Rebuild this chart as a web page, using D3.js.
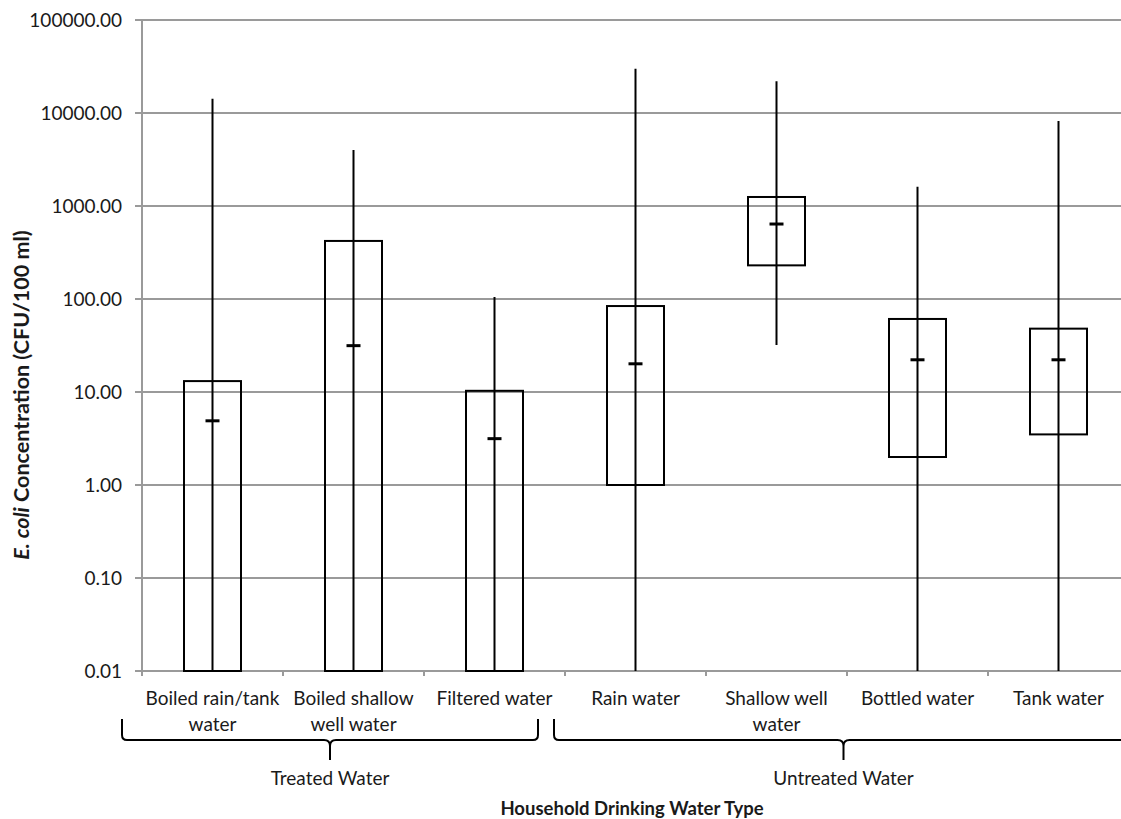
<!DOCTYPE html>
<html>
<head>
<meta charset="utf-8">
<script src="https://cdn.jsdelivr.net/npm/d3@7"></script>
<style>
  body { margin: 0; background: #fff; }
  text { font-family: Lato, "Open Sans", sans-serif; fill: #1a1a1a; }
</style>
</head>
<body>
<svg id="chart" width="1121" height="819"></svg>
<script>
// values (CFU/100 ml, log scale)
var categories = ["Boiled rain/tank water", "Boiled shallow well water", "Filtered water",
                  "Rain water", "Shallow well water", "Bottled water", "Tank water"];
var tickLabels = ["Boiled rain/tank\nwater", "Boiled shallow\nwell water", "Filtered water",
                  "Rain water", "Shallow well\nwater", "Bottled water", "Tank water"];
var whiskerLow  = [0.01, 0.01, 0.01, 0.01, 32, 0.01, 0.01];
var boxLow      = [0.01, 0.01, 0.01, 1.0, 230, 2.0, 3.5];
var medians     = [4.9, 31.5, 3.15, 20.1, 640, 22.2, 22.2];
var boxHigh     = [13.1, 421, 10.3, 84, 1250, 61, 48];
var whiskerHigh = [14200, 4000, 105, 30000, 21900, 1615, 8200];
var yTicks = [0.01, 0.1, 1, 10, 100, 1000, 10000, 100000];
var groups = [
  {name: "Treated Water", from: 0, to: 2},
  {name: "Untreated Water", from: 3, to: 6}
];

var svg = d3.select("#chart");
// note: "top" is taken by window.top, so use plot* names
var plotL = 142, plotT = 20, plotB = 671, plotR = 142 + 141 * 7;

var x = d3.scaleBand().domain(categories).range([plotL, plotR]);
var y = d3.scaleLog().domain([0.01, 100000]).range([plotB, plotT]);
var boxW = 57;

// gridlines
svg.append("g").selectAll("line").data(yTicks).join("line")
  .attr("x1", plotL - 7).attr("x2", 1121)
  .attr("y1", d => y(d)).attr("y2", d => y(d))
  .attr("stroke", "#9a9a9a").attr("stroke-width", 2);

// y axis line
svg.append("line").attr("x1", plotL).attr("x2", plotL).attr("y1", plotT).attr("y2", plotB + 5)
  .attr("stroke", "#9a9a9a").attr("stroke-width", 2);

// y tick labels
svg.append("g").selectAll("text").data(yTicks).join("text")
  .attr("x", 122).attr("y", d => y(d)).attr("dy", "0.35em")
  .attr("text-anchor", "end").attr("font-size", 19)
  .text(d => d.toFixed(2));

// x axis ticks at band edges
var edges = categories.map(c => x(c)).concat([plotR]);
svg.append("g").selectAll("line").data(edges).join("line")
  .attr("x1", d => d).attr("x2", d => d).attr("y1", plotB).attr("y2", plotB + 5)
  .attr("stroke", "#9a9a9a").attr("stroke-width", 2);

// whiskers
var cx = i => x(categories[i]) + x.bandwidth() / 2;
svg.append("g").selectAll("line").data(categories).join("line")
  .attr("x1", (d, i) => cx(i)).attr("x2", (d, i) => cx(i))
  .attr("y1", (d, i) => y(whiskerLow[i])).attr("y2", (d, i) => y(whiskerHigh[i]))
  .attr("stroke", "#000").attr("stroke-width", 2);

// boxes
svg.append("g").selectAll("rect").data(categories).join("rect")
  .attr("x", (d, i) => cx(i) - boxW / 2).attr("width", boxW)
  .attr("y", (d, i) => y(boxHigh[i]))
  .attr("height", (d, i) => y(boxLow[i]) - y(boxHigh[i]))
  .attr("fill", "none").attr("stroke", "#000").attr("stroke-width", 2);

// medians
svg.append("g").selectAll("line").data(categories).join("line")
  .attr("x1", (d, i) => cx(i) - 7).attr("x2", (d, i) => cx(i) + 7)
  .attr("y1", (d, i) => y(medians[i])).attr("y2", (d, i) => y(medians[i]))
  .attr("stroke", "#000").attr("stroke-width", 3);

// category labels
var lab = svg.append("g").selectAll("text").data(tickLabels).join("text")
  .attr("text-anchor", "middle").attr("font-size", 19)
  .attr("x", (d, i) => cx(i)).attr("y", 705);
lab.selectAll("tspan").data(d => d.split("\n")).join("tspan")
  .attr("x", function() { return this.parentNode.getAttribute("x"); })
  .attr("dy", (d, i) => i ? 26 : 0)
  .text(d => d);

// group brackets
var by = 740;
groups.forEach(function(g, gi) {
  var x0 = x(categories[g.from]) - (gi === 0 ? 20 : 11);
  var x1 = gi === 0 ? x(categories[g.to]) + x.bandwidth() - 27 : plotR + 4;
  var m = (x0 + x1) / 2;
  var p = d3.path();
  p.moveTo(x0, by - 21);
  p.lineTo(x0, by - 5);
  p.quadraticCurveTo(x0, by, x0 + 5, by);
  p.lineTo(m - 6, by);
  p.quadraticCurveTo(m, by, m, by + 6);
  p.lineTo(m, by + 20);
  p.moveTo(m, by + 6);
  p.quadraticCurveTo(m, by, m + 6, by);
  p.lineTo(x1 - 5, by);
  p.quadraticCurveTo(x1, by, x1, by - 5);
  p.lineTo(x1, by - 21);
  svg.append("path").attr("d", p.toString())
    .attr("fill", "none").attr("stroke", "#000").attr("stroke-width", 2);
  svg.append("text").attr("x", m).attr("y", 785)
    .attr("text-anchor", "middle").attr("font-size", 19).text(g.name);
});

// axis titles
svg.append("text").attr("x", 632).attr("y", 815)
  .attr("text-anchor", "middle").attr("font-size", 18.5).attr("font-weight", "bold")
  .text("Household Drinking Water Type");

var yt = svg.append("text").attr("transform", "translate(29,395) rotate(-90)")
  .attr("text-anchor", "middle").attr("font-size", 21.5).attr("font-weight", "bold");
yt.append("tspan").attr("font-style", "italic").text("E. coli");
yt.append("tspan").text(" Concentration (CFU/100 ml)");
</script>
</body>
</html>
